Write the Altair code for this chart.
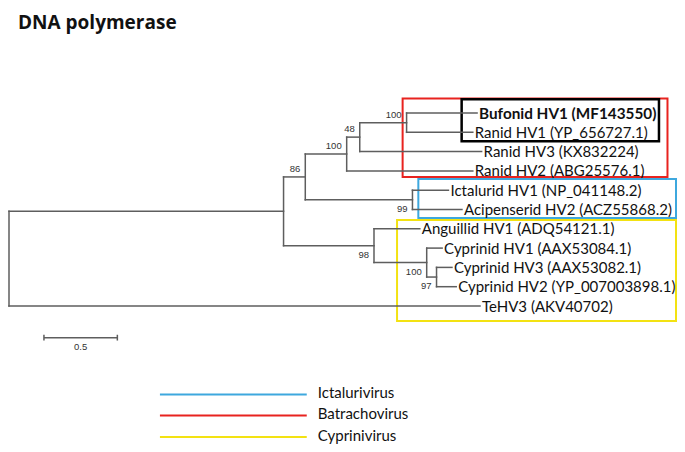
import altair as alt
import pandas as pd

# ---------------- data ----------------
leaf_ids = ["Bufonid", "RanidHV1", "RanidHV3", "RanidHV2", "Ictalurid", "Acipenserid",
            "Anguillid", "CypHV1", "CypHV3", "CypHV2", "TeHV3"]
leaf_labels = ["Bufonid HV1 (MF143550)", "Ranid HV1 (YP_656727.1)", "Ranid HV3 (KX832224)",
               "Ranid HV2 (ABG25576.1)", "Ictalurid HV1 (NP_041148.2)",
               "Acipenserid HV2 (ACZ55868.2)", "Anguillid HV1 (ADQ54121.1)",
               "Cyprinid HV1 (AAX53084.1)", "Cyprinid HV3 (AAX53082.1)",
               "Cyprinid HV2 (YP_007003898.1)", "TeHV3 (AKV40702)"]
bold_leaves = ["Bufonid"]

node_ids = ["A", "TeHV3", "B86", "C98", "D100", "E99", "F48", "RanidHV2", "G100", "RanidHV3",
            "Bufonid", "RanidHV1", "Ictalurid", "Acipenserid", "Anguillid", "H100",
            "CypHV1", "I97", "CypHV3", "CypHV2"]
node_parents = ["root", "root", "A", "A", "B86", "B86", "D100", "D100", "F48", "F48",
                "G100", "G100", "E99", "E99", "C98", "C98", "H100", "H100", "I97", "I97"]
branch_lengths = [1.870, 3.208, 0.148, 0.616, 0.282, 0.730, 0.089, 0.859, 0.319, 0.830,
                  0.480, 0.451, 0.245, 0.337, 0.312, 0.359, 0.105, 0.067, 0.105, 0.134]

support_nodes = ["B86", "D100", "F48", "G100", "E99", "C98", "H100", "I97"]
support_values = [86, 100, 48, 100, 99, 98, 100, 97]

genus_names = ["Ictalurivirus", "Batrachovirus", "Cyprinivirus"]
genus_colors = ["#3ea8de", "#e8231f", "#f3e212"]
scale_bar_length = 0.5
title_text = "DNA polymerase"

# ---------------- layout constants ----------------
PX_PER_UNIT = 146.82
X_DOMAIN_MAX = 4.5
X_RANGE = [1, 1 + PX_PER_UNIT * X_DOMAIN_MAX]
Y_SCALE = alt.Scale(domain=[0, 10], range=[105, 298], zero=False, nice=False)
X_SCALE = alt.Scale(domain=[0, X_DOMAIN_MAX], range=X_RANGE, zero=False, nice=False)
labels_above = {"B86", "D100", "F48", "G100"}
# clade boxes in tree units / leaf rows: (left, right, top, bottom)
box_edges = {
    "Batrachovirus": (2.681, 4.485, -0.751, 3.316),
    "Ictalurivirus": (2.788, 4.543, 3.42, 5.44),
    "Cyprinivirus": (2.643, 4.543, 5.55, 10.78),
}
black_box = (3.083, 4.427, -0.713, 1.458)
legend_x = (1.028, 2.028)
legend_rows = [14.585, 15.674, 16.788]
scale_bar_x0 = 0.238
scale_bar_row = 11.64

# ---------------- tree layout ----------------
blen = dict(zip(node_ids, branch_lengths))
children = {}
for n, p in zip(node_ids, node_parents):
    children.setdefault(p, []).append(n)

depth = {"root": 0.0}


def set_depth(n):
    for c in children.get(n, []):
        depth[c] = depth[n] + blen[c]
        set_depth(c)


set_depth("root")

row = {lid: float(i) for i, lid in enumerate(leaf_ids)}


def set_row(n):
    if n in row:
        return row[n]
    ys = [set_row(c) for c in children[n]]
    row[n] = sum(ys) / len(ys)
    return row[n]


set_row("root")

segs = []
for n, p in zip(node_ids, node_parents):
    segs.append({"x": depth[p], "x2": depth[n], "y": row[n], "y2": row[n]})
for n, ch in children.items():
    ys = [row[c] for c in ch]
    segs.append({"x": depth[n], "x2": depth[n], "y": min(ys), "y2": max(ys)})
seg_df = pd.DataFrame(segs)

leaf_df = pd.DataFrame({
    "x": [depth[l] for l in leaf_ids],
    "y": [row[l] for l in leaf_ids],
    "label": leaf_labels,
    "bold": [l in bold_leaves for l in leaf_ids],
})

sup_df = pd.DataFrame({
    "x": [depth[n] for n in support_nodes],
    "y": [row[n] for n in support_nodes],
    "label": [str(v) for v in support_values],
    "above": [n in labels_above for n in support_nodes],
})

box_df = pd.DataFrame([
    {"genus": g, "x": box_edges[g][0], "x2": box_edges[g][1],
     "y": box_edges[g][2], "y2": box_edges[g][3]} for g in genus_names
])
black_df = pd.DataFrame([{"x": black_box[0], "x2": black_box[1],
                          "y": black_box[2], "y2": black_box[3]}])

legend_df = pd.DataFrame({
    "genus": genus_names,
    "x": [legend_x[0]] * 3,
    "x2": [legend_x[1]] * 3,
    "y": legend_rows,
})

sb_df = pd.DataFrame([{"x": scale_bar_x0, "x2": scale_bar_x0 + scale_bar_length,
                       "y": scale_bar_row, "y2": scale_bar_row}])
sb_ticks = pd.DataFrame({"x": [scale_bar_x0, scale_bar_x0 + scale_bar_length],
                         "y": [scale_bar_row - 0.15] * 2, "y2": [scale_bar_row + 0.15] * 2})
sb_label = pd.DataFrame([{"x": scale_bar_x0 + scale_bar_length / 2, "y": scale_bar_row,
                          "label": str(scale_bar_length)}])

color_scale = alt.Scale(domain=genus_names, range=genus_colors)
X = lambda f="x": alt.X(f"{f}:Q", scale=X_SCALE, axis=None)
Y = lambda f="y": alt.Y(f"{f}:Q", scale=Y_SCALE, axis=None)
TREE_GRAY = "#5e5e5e"
LEAF_FS = 15

branches = alt.Chart(seg_df).mark_rule(color=TREE_GRAY, strokeWidth=1.5, strokeCap="square").encode(
    x=X(), x2="x2:Q", y=Y(), y2="y2:Q")

leaf_text_normal = alt.Chart(leaf_df[~leaf_df.bold]).mark_text(
    align="left", baseline="middle", dx=2, dy=0.5, font="Lato", fontSize=LEAF_FS, color="#111"
).encode(x=X(), y=Y(), text="label:N")
leaf_text_bold = alt.Chart(leaf_df[leaf_df.bold]).mark_text(
    align="left", baseline="middle", dx=2, dy=0.5, font="Lato", fontSize=LEAF_FS + 0.3,
    fontWeight="bold", color="#111"
).encode(x=X(), y=Y(), text="label:N")

sup_above = alt.Chart(sup_df[sup_df.above]).mark_text(
    align="right", baseline="middle", dx=-5, dy=-8, font="Liberation Sans", fontSize=9.5,
    color="#333"
).encode(x=X(), y=Y(), text="label:N")
sup_below = alt.Chart(sup_df[~sup_df.above]).mark_text(
    align="right", baseline="middle", dx=-5, dy=9, font="Liberation Sans", fontSize=9.5,
    color="#333"
).encode(x=X(), y=Y(), text="label:N")

boxes = alt.Chart(box_df).mark_rect(fill=None, strokeWidth=2).encode(
    x=X(), x2="x2:Q", y=Y(), y2="y2:Q",
    stroke=alt.Stroke("genus:N", scale=color_scale, legend=None))
black = alt.Chart(black_df).mark_rect(fill=None, stroke="black", strokeWidth=2.5).encode(
    x=X(), x2="x2:Q", y=Y(), y2="y2:Q")

legend_lines = alt.Chart(legend_df).mark_rule(strokeWidth=2).encode(
    x=X(), x2="x2:Q", y=Y(),
    color=alt.Color("genus:N", scale=color_scale, legend=None))
legend_text = alt.Chart(legend_df).mark_text(
    align="left", baseline="middle", dx=11, dy=-1.5, font="Lato", fontSize=LEAF_FS, color="#111"
).encode(x=X("x2"), y=Y(), text="genus:N")

sb_line = alt.Chart(sb_df).mark_rule(color=TREE_GRAY, strokeWidth=1.5).encode(
    x=X(), x2="x2:Q", y=Y(), y2="y2:Q")
sb_tick = alt.Chart(sb_ticks).mark_rule(color=TREE_GRAY, strokeWidth=1.5).encode(
    x=X(), y=Y(), y2="y2:Q")
sb_text = alt.Chart(sb_label).mark_text(
    align="center", baseline="middle", dy=9, font="Liberation Sans", fontSize=9.5, color="#333"
).encode(x=X(), y=Y(), text="label:N")

title = alt.Chart(pd.DataFrame({"t": [title_text]})).mark_text(
    align="left", baseline="top", font="Open Sans", fontSize=19, fontWeight="bold",
    color="#111"
).encode(x=alt.value(10), y=alt.value(6), text="t:N")

chart = alt.layer(
    boxes, black, branches, leaf_text_normal, leaf_text_bold, sup_above, sup_below,
    legend_lines, legend_text, sb_line, sb_tick, sb_text, title
).properties(
    width=669, height=436,
    autosize=alt.AutoSizeParams(type="none"),
    padding=0,
).configure_view(stroke=None)

chart.save("out.html", embed_options={"renderer": "svg", "actions": False})
